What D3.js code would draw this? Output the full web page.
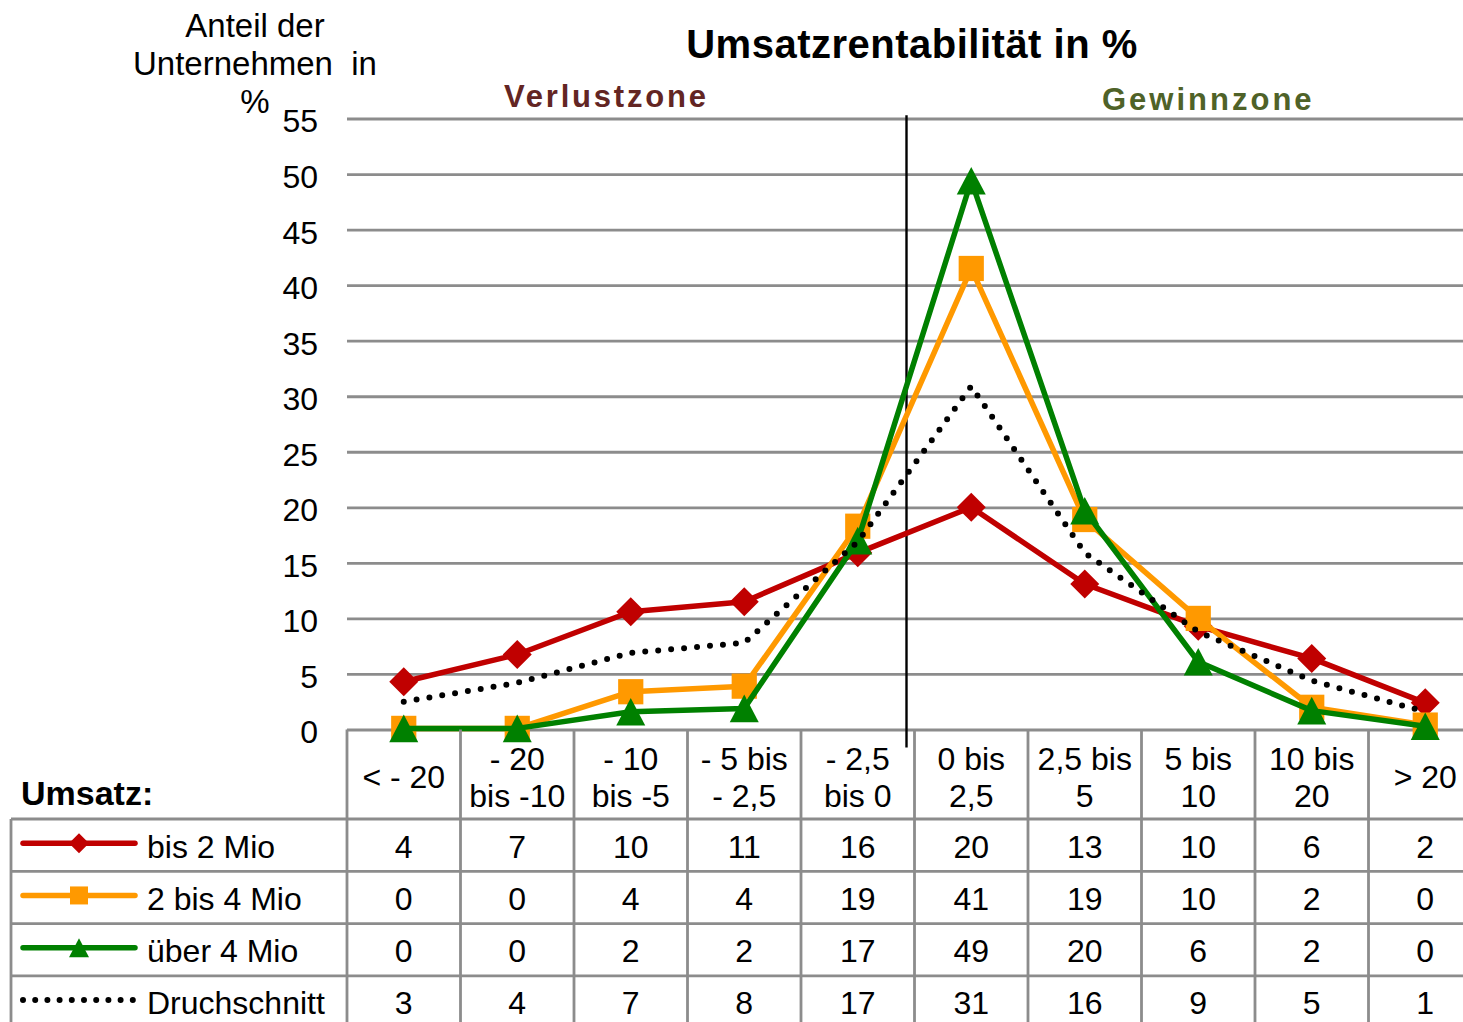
<!DOCTYPE html>
<html lang="de">
<head>
<meta charset="utf-8">
<title>Umsatzrentabilität in %</title>
<style>
body { margin: 0; background: #fff; }
* { font-family: "Liberation Sans", Arial, sans-serif; }
</style>
<script src="https://cdnjs.cloudflare.com/ajax/libs/d3/7.8.5/d3.min.js"></script>
</head>
<body>
<script>
// categories (Umsatzrentabilität classes) and header labels of the table
var categories = ["< - 20", "- 20 bis -10", "- 10 bis -5", "- 5 bis - 2,5", "- 2,5 bis 0",
                  "0 bis 2,5", "2,5 bis 5", "5 bis 10", "10 bis 20", "> 20"];
var headerLines = [["< - 20"], ["- 20", "bis -10"], ["- 10", "bis -5"], ["- 5 bis", "- 2,5"], ["- 2,5", "bis 0"],
                   ["0 bis", "2,5"], ["2,5 bis", "5"], ["5 bis", "10"], ["10 bis", "20"], ["> 20"]];

// plotted values
var bis2Mio      = [4.3, 6.75, 10.6, 11.5, 15.9, 20.0, 13.1, 9.3, 6.4, 2.4];
var bis4Mio      = [0.1, 0.1, 3.4, 3.9, 18.3, 41.5, 18.9, 10.0, 2.0, 0.4];
var ueber4Mio    = [0.1, 0.1, 1.6, 1.9, 17.0, 49.4, 19.7, 6.1, 1.7, 0.3];
var durchschnitt = [2.5, 4.2, 6.9, 7.8, 16.9, 30.9, 15.9, 8.8, 4.4, 1.6];

// rounded values printed in the data table
var tabBis2Mio      = [4, 7, 10, 11, 16, 20, 13, 10, 6, 2];
var tabBis4Mio      = [0, 0, 4, 4, 19, 41, 19, 10, 2, 0];
var tabUeber4Mio    = [0, 0, 2, 2, 17, 49, 20, 6, 2, 0];
var tabDurchschnitt = [3, 4, 7, 8, 17, 31, 16, 9, 5, 1];

var seriesNames = ["bis 2 Mio", "2 bis 4 Mio", "über 4 Mio", "Druchschnitt"];
var yTicks = d3.range(0, 56, 5);

var series = [
	{ name: seriesNames[0], values: bis2Mio,      table: tabBis2Mio,      color: "#c00000", marker: "diamond" },
	{ name: seriesNames[1], values: bis4Mio,      table: tabBis4Mio,      color: "#ff9900", marker: "square" },
	{ name: seriesNames[2], values: ueber4Mio,    table: tabUeber4Mio,    color: "#008000", marker: "triangle" },
	{ name: seriesNames[3], values: durchschnitt, table: tabDurchschnitt, color: "#000000", marker: "dots" }
];

var width = 1463, height = 1022;
var grey = "#8c8c8c";

var svg = d3.select("body").append("svg")
	.attr("width", width)
	.attr("height", height);

var x = d3.scaleBand().domain(categories).range([347, 1482]);
var y = d3.scaleLinear().domain([0, 55]).range([729.5, 118.5]);
var cx = function(i) { return x(categories[i]) + x.bandwidth() / 2; };

// gridlines and y tick labels
var yAxis = svg.append("g")
	.attr("transform", "translate(347,0)")
	.call(d3.axisLeft(y).tickValues(yTicks).tickSize(-(1482 - 347)).tickPadding(29).tickFormat(d3.format("d")));
yAxis.select(".domain").remove();
yAxis.selectAll("line").attr("stroke", grey).attr("stroke-width", 2.8);
yAxis.selectAll("text")
	.attr("fill", "#000")
	.attr("dy", "0.42em")
	.style("font-size", "32px");

// titles
svg.append("text")
	.attr("x", 912).attr("y", 58)
	.attr("text-anchor", "middle")
	.style("font-size", "40px").style("font-weight", "bold").style("letter-spacing", "0.5px")
	.text("Umsatzrentabilität in %");

var yTitle = ["Anteil der", "Unternehmen\u00a0 in", "%"];
svg.selectAll(".ytitle")
	.data(yTitle)
	.enter()
	.append("text")
		.attr("class", "ytitle")
		.attr("x", 255)
		.attr("y", function(d, i) { return 37 + i * 38; })
		.attr("text-anchor", "middle")
		.style("font-size", "33px")
		.text(function(d) { return d; });

svg.append("text")
	.attr("x", 504).attr("y", 107)
	.style("font-size", "31px").style("font-weight", "bold").style("letter-spacing", "2.8px")
	.attr("fill", "#632523")
	.text("Verlustzone");

svg.append("text")
	.attr("x", 1102).attr("y", 110)
	.style("font-size", "31px").style("font-weight", "bold").style("letter-spacing", "3px")
	.attr("fill", "#4f6228")
	.text("Gewinnzone");

// divider between loss and profit zone
var divX = x(categories[5]) - 8;
svg.append("line")
	.attr("x1", divX).attr("x2", divX)
	.attr("y1", y(55.3)).attr("y2", y(0) + 18)
	.attr("stroke", "#000").attr("stroke-width", 2.4);

// markers
function drawMarker(g, type, px, py, size, color) {
	var h = size / 2;
	if (type === "diamond") {
		g.append("path")
			.attr("d", "M" + px + "," + (py - h) + "L" + (px + h) + "," + py + "L" + px + "," + (py + h) + "L" + (px - h) + "," + py + "Z")
			.attr("fill", color);
	} else if (type === "square") {
		g.append("rect")
			.attr("x", px - h * 0.9).attr("y", py - h * 0.9)
			.attr("width", size * 0.9).attr("height", size * 0.9)
			.attr("fill", color);
	} else if (type === "triangle") {
		g.append("path")
			.attr("d", "M" + px + "," + (py - h * 0.95) + "L" + (px + h) + "," + (py + h * 0.95) + "L" + (px - h) + "," + (py + h * 0.95) + "Z")
			.attr("fill", color);
	}
}

function styleLine(sel, s) {
	sel.attr("fill", "none").attr("stroke", s.color);
	if (s.marker === "dots") {
		sel.attr("stroke-width", 6).attr("stroke-dasharray", "0,13").attr("stroke-linecap", "round");
	} else {
		sel.attr("stroke-width", 5.5).attr("stroke-linejoin", "round").attr("stroke-linecap", "round");
	}
}

var line = d3.line()
	.x(function(d, i) { return cx(i); })
	.y(function(d) { return y(d); });

series.forEach(function(s) {
	var g = svg.append("g");
	g.append("path").attr("d", line(s.values)).call(styleLine, s);
	s.values.forEach(function(v, i) {
		drawMarker(g, s.marker, cx(i), y(v), s.marker === "square" ? 28 : 29, s.color);
	});
});

// data table
var rowTop = 819, rowH = 52.3, headTop = y(0);
var tableRight = 1482;
var tg = svg.append("g");

for (var k = 0; k <= categories.length; k++) {
	var bx = 347 + k * x.bandwidth();
	tg.append("line")
		.attr("x1", bx).attr("x2", bx)
		.attr("y1", headTop).attr("y2", rowTop + rowH * 4)
		.attr("stroke", grey).attr("stroke-width", 2.8);
}
tg.append("line")
	.attr("x1", 11).attr("x2", 11)
	.attr("y1", rowTop).attr("y2", rowTop + rowH * 4)
	.attr("stroke", grey).attr("stroke-width", 2.8);
for (var r = 0; r <= series.length; r++) {
	tg.append("line")
		.attr("x1", 11).attr("x2", tableRight)
		.attr("y1", rowTop + r * rowH).attr("y2", rowTop + r * rowH)
		.attr("stroke", grey).attr("stroke-width", 2.8);
}

// header labels
headerLines.forEach(function(lines, i) {
	lines.forEach(function(t, j) {
		tg.append("text")
			.attr("x", cx(i))
			.attr("y", lines.length === 1 ? 788 : 770 + j * 37)
			.attr("text-anchor", "middle")
			.style("font-size", "32px")
			.text(t);
	});
});

tg.append("text")
	.attr("x", 21).attr("y", 805)
	.style("font-size", "34px").style("font-weight", "bold")
	.text("Umsatz:");

// legend keys and values
series.forEach(function(s, r) {
	var top = rowTop + r * rowH;
	var mid = top + rowH / 2 - 2;
	var kg = tg.append("g");
	kg.append("path").attr("d", "M23," + mid + "L135," + mid).call(styleLine, s);
	if (s.marker === "dots") kg.select("path").attr("stroke-dasharray", "0,12.2");
	drawMarker(kg, s.marker, 79, mid, 20, s.color);

	tg.append("text")
		.attr("x", 147).attr("y", top + 38.5)
		.style("font-size", "32px")
		.text(s.name);

	s.table.forEach(function(v, i) {
		tg.append("text")
			.attr("x", cx(i)).attr("y", top + 38.5)
			.attr("text-anchor", "middle")
			.style("font-size", "32px")
			.text(v);
	});
});
</script>
</body>
</html>
